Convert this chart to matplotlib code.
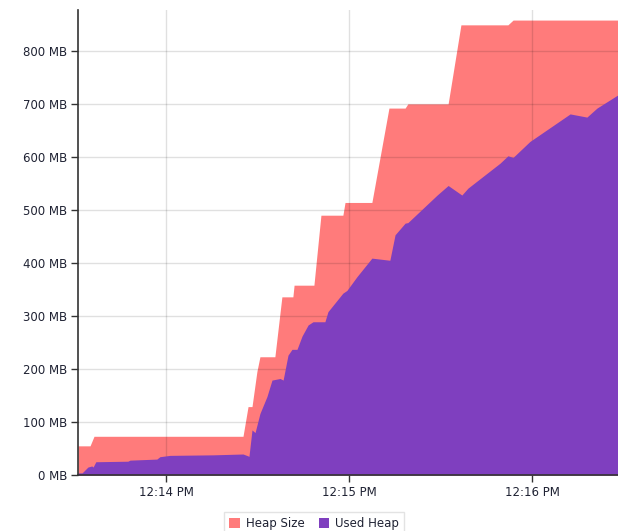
import matplotlib
matplotlib.use("Agg")
import matplotlib.pyplot as plt
import matplotlib.dates as mdates
import pandas as pd

heap_times = ["12:13:31.15", "12:13:35.1", "12:13:36.4", "12:14:25.25", "12:14:26.9",
              "12:14:28.2", "12:14:29.8", "12:14:30.8", "12:14:35.7", "12:14:38.0",
              "12:14:41.6", "12:14:42.0", "12:14:48.5", "12:14:50.8", "12:14:58.0",
              "12:14:58.7", "12:15:07.5", "12:15:13.1", "12:15:18.4", "12:15:19.3",
              "12:15:32.5", "12:15:36.7", "12:15:52.1", "12:15:53.8", "12:16:28.2"]
heap_size = [55, 55, 73, 73, 129, 129, 195, 223, 223, 336, 336, 358, 358, 490, 490,
             514, 514, 692, 692, 700, 700, 849, 849, 858, 858]

used_times = ["12:13:31.15", "12:13:32.5", "12:13:34.4", "12:13:35.7", "12:13:36.1",
              "12:13:37.0", "12:13:47.5", "12:13:48.2", "12:13:57.0", "12:13:58.0",
              "12:14:01.3", "12:14:15.4", "12:14:25.25", "12:14:26.9", "12:14:27.2",
              "12:14:28.2", "12:14:29.2", "12:14:30.8", "12:14:33.1", "12:14:34.75",
              "12:14:37.4", "12:14:38.4", "12:14:40.0", "12:14:41.3", "12:14:42.95",
              "12:14:44.6", "12:14:46.6", "12:14:48.2", "12:14:52.1", "12:14:53.1",
              "12:14:58.0", "12:14:59.3", "12:15:02.6", "12:15:07.5", "12:15:13.4",
              "12:15:15.1", "12:15:18.4", "12:15:19.3", "12:15:28.9", "12:15:32.5",
              "12:15:37.0", "12:15:39.0", "12:15:49.5", "12:15:52.1", "12:15:53.8",
              "12:15:59.3", "12:16:12.5", "12:16:18.0", "12:16:21.3", "12:16:28.2"]
used_heap = [4, 4, 15, 17, 15, 25, 26, 28, 30, 34.5, 37, 38, 39.6, 36, 35, 85, 80, 116,
             148, 179, 182, 179, 226, 237, 237, 262, 283, 289, 289, 308, 343, 348, 374,
             409, 405, 453, 475, 476, 528, 546, 528, 541, 588, 602, 599, 629, 681, 675,
             692, 717]

y_ticks = [0, 100, 200, 300, 400, 500, 600, 700, 800]
x_ticks = ["12:14:00", "12:15:00", "12:16:00"]
series_labels = ["Heap Size", "Used Heap"]

day = "2024-01-01 "
ht = pd.to_datetime([day + t for t in heap_times])
ut = pd.to_datetime([day + t for t in used_times])
xt = pd.to_datetime([day + t for t in x_ticks])

red = "#FF7B7B"
purple = "#7F3FBF"
txt = "#1f2233"

fig = plt.figure(figsize=(6.18, 5.31), dpi=100)
ax = fig.add_axes([78 / 618, 1 - 475 / 531, 1 - 78 / 618, (475 - 10) / 531])

ax.fill_between(ht, heap_size, 0, color=red, linewidth=0, label=series_labels[0], zorder=2)
ax.fill_between(ut, used_heap, 0, color=purple, linewidth=0, label=series_labels[1], zorder=3)

ax.set_xlim(pd.to_datetime(day + "12:13:31.15"), pd.to_datetime(day + "12:16:28.2"))
ax.set_ylim(0, 877)
ax.set_yticks(y_ticks)
ax.set_yticklabels([f"{v} MB" for v in y_ticks])
ax.set_xticks(xt)
ax.xaxis.set_major_formatter(mdates.DateFormatter("%-I:%M %p"))

ax.grid(True, color="black", alpha=0.12, linewidth=1, zorder=4)
ax.set_axisbelow(False)
for s in ["top", "right"]:
    ax.spines[s].set_visible(False)
for s in ["left", "bottom"]:
    ax.spines[s].set_color("#333333")
    ax.spines[s].set_linewidth(1.2)
    ax.spines[s].set_zorder(5)
ax.tick_params(axis="both", direction="out", length=5, width=1, color="#333333",
               labelsize=8.5, labelcolor=txt, pad=3)

handles, labels = ax.get_legend_handles_labels()
leg = fig.legend(handles, labels, loc="lower center", bbox_to_anchor=(314 / 618, -0.014),
                 ncol=2, fontsize=8.5, frameon=True, fancybox=False, edgecolor="#dddddd",
                 handlelength=0.9, handleheight=0.9, handletextpad=0.5, columnspacing=1.2,
                 borderpad=0.4, borderaxespad=0.3, labelcolor=txt)
leg.get_frame().set_linewidth(1)

fig.savefig("out.png", dpi=100)
